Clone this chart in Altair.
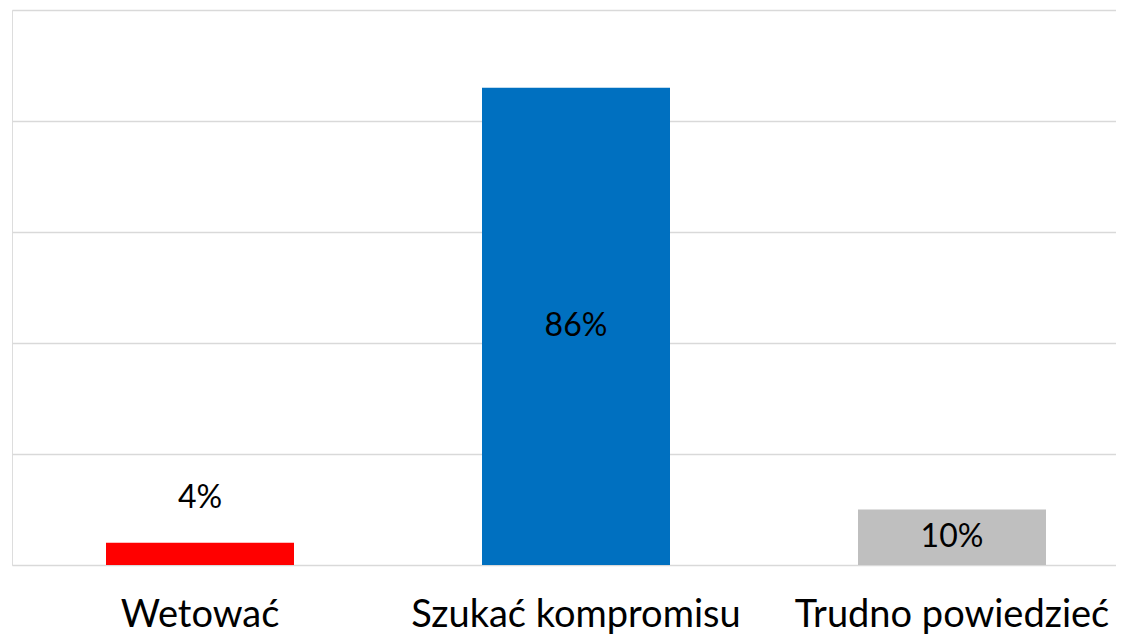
import altair as alt
import pandas as pd

categories = ["Wetować", "Szukać kompromisu", "Trudno powiedzieć"]
values = [4, 86, 10]
colors = ["#FF0000", "#0070C0", "#BFBFBF"]
labels = ["4%", "86%", "10%"]

df = pd.DataFrame({"cat": categories, "v": values, "lab": labels})

FONT = "Lato"

x = alt.X("cat:N", sort=categories, title=None,
          scale=alt.Scale(range=[0, 1128], paddingInner=0.5, paddingOuter=0.25),
          axis=alt.Axis(labelAngle=0, ticks=False, domain=False, labelFont=FONT,
                        labelFontSize=38, labelColor="#000000", labelPadding=31,
                        labelLimit=0))
y = alt.Y("v:Q", title=None,
          scale=alt.Scale(domain=[0, 100], nice=False),
          axis=alt.Axis(values=[0, 20, 40, 60, 80, 100], labels=False, ticks=False,
                        domain=False, grid=True, gridColor="#D9D9D9", gridWidth=1.5))

bars = alt.Chart(df).mark_bar().encode(
    x=x, y=y,
    color=alt.Color("cat:N", scale=alt.Scale(domain=categories, range=colors), legend=None),
)

inside = alt.Chart(df).transform_filter("datum.v >= 8").transform_calculate(
    mid="datum.v / 2"
).mark_text(font=FONT, fontSize=32, color="#000000", baseline="middle").encode(
    x=alt.X("cat:N", sort=categories),
    y=alt.Y("mid:Q"),
    text="lab:N",
)

above = alt.Chart(df).transform_filter("datum.v < 8").mark_text(
    font=FONT, fontSize=32, color="#000000", baseline="bottom", dy=-28
).encode(
    x=alt.X("cat:N", sort=categories),
    y=alt.Y("v:Q"),
    text="lab:N",
)

chart = alt.layer(bars, inside, above).properties(
    width=1104, height=555,
    padding={"left": 4, "top": 2, "right": 0, "bottom": 70},
    autosize=alt.AutoSizeParams(type="none"),
).configure_view(stroke=None).configure(background="#FFFFFF")

chart.save("out.html", embed_options={"renderer": "svg", "actions": False})
